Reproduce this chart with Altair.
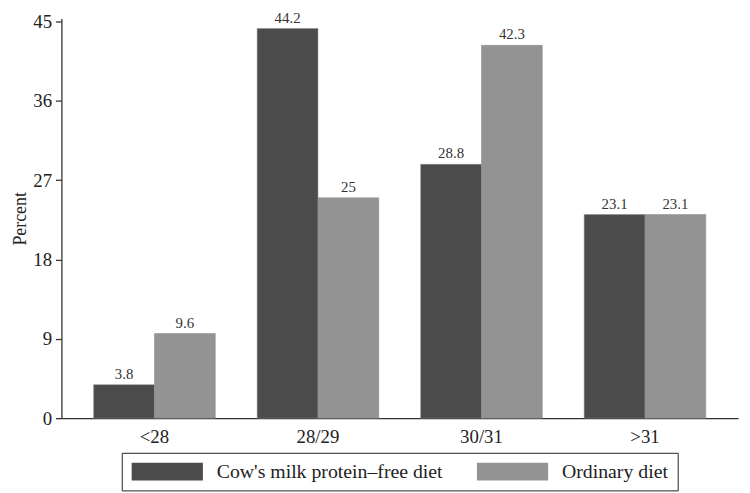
import altair as alt
import pandas as pd

categories = ["<28", "28/29", "30/31", ">31"]
diets = ["Cow's milk protein\u2013free diet", "Ordinary diet"]
cow_free = [3.8, 44.2, 28.8, 23.1]
ordinary = [9.6, 25, 42.3, 23.1]
y_ticks = [0, 9, 18, 27, 36, 45]
colors = ["#4b4b4b", "#939393"]

rows = []
for c, a, b in zip(categories, cow_free, ordinary):
    rows.append({"cat": c, "diet": diets[0], "value": a})
    rows.append({"cat": c, "diet": diets[1], "value": b})
df = pd.DataFrame(rows)

FONT = "Liberation Serif"

x = alt.X("cat:N", sort=categories, title=None,
          scale=alt.Scale(paddingInner=0.256, paddingOuter=0.197),
          axis=alt.Axis(labelAngle=0, ticks=False, labelPadding=10, labelFontSize=19,
                        labelFont=FONT, labelColor="#222", domainColor="#333", domainWidth=1.3))
xo = alt.XOffset("diet:N", sort=diets)
y = alt.Y("value:Q", title="Percent",
          scale=alt.Scale(domain=[0, 45.34], nice=False),
          axis=alt.Axis(values=y_ticks, grid=False, tickSize=6, labelPadding=4, labelFontSize=19,
                        labelFont=FONT, labelColor="#222", titleFont=FONT, titleFontSize=18,
                        titleFontWeight="normal", titleColor="#222", titlePadding=3,
                        domainColor="#333", domainWidth=1.3, tickColor="#333", tickWidth=1.3))

bars = alt.Chart(df).mark_bar(stroke="#888", strokeWidth=0.5).encode(
    x=x, xOffset=xo, y=y,
    color=alt.Color("diet:N", sort=diets, scale=alt.Scale(domain=diets, range=colors),
                    legend=alt.Legend(title=None, orient="none", legendX=61, legendY=439,
                                      direction="horizontal", strokeColor="#222", padding=9,
                                      symbolType="M-1,-1H7V1H-1Z", symbolSize=324,
                                      symbolStrokeWidth=0, symbolOpacity=1, labelOffset=67,
                                      columnPadding=33, labelFontSize=20, labelFont=FONT,
                                      labelColor="#222", labelLimit=0)),
)
labels = alt.Chart(df).mark_text(dy=-11, fontSize=15, font=FONT, color="#333").encode(
    x=x, xOffset=xo, y=y, text=alt.Text("value:Q"))

chart = (bars + labels).properties(
    width=684, height=404, autosize="none",
    padding={"left": 54, "top": 8, "right": 4, "bottom": 73},
).configure_view(stroke=None)

chart.save("out.html", embed_options={"renderer": "svg", "actions": False})
